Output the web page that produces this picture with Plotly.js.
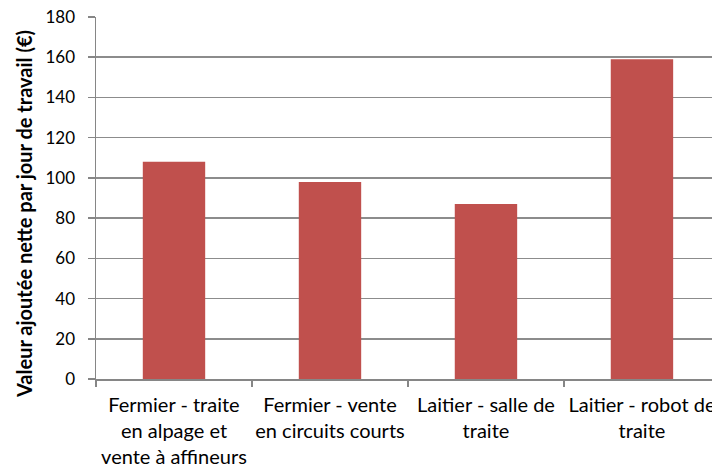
<!DOCTYPE html>
<html>
<head>
<meta charset="utf-8">
<script src="https://cdn.plot.ly/plotly-3.0.1.min.js"></script>
<style>html,body{margin:0;padding:0;background:#fff;overflow:hidden}#chart{width:712px;height:466px}</style>
</head>
<body>
<div id="chart"></div>
<script>
const categories = [
  "Fermier - traite<br>en alpage et<br>vente à affineurs",
  "Fermier - vente<br>en circuits courts",
  "Laitier - salle de<br>traite",
  "Laitier - robot de<br>traite"
];
const values = [108, 98, 87, 159];
const yTitle = "Valeur ajoutée nette par jour de travail (€)";
const yTicks = [0, 20, 40, 60, 80, 100, 120, 140, 160, 180];

const FONT = "Lato, 'Open Sans', sans-serif";
const W = 712, H = 466;
const M = {l: 96, r: 0, t: 17, b: 87};
const plotW = W - M.l - M.r, plotH = H - M.t - M.b;

Plotly.newPlot("chart", [{
  type: "bar",
  x: categories,
  y: values,
  marker: {color: "#C0504D", line: {width: 0}},
  hoverinfo: "none"
}], {
  width: W, height: H,
  margin: {l: M.l, r: M.r, t: M.t, b: M.b, pad: 0},
  paper_bgcolor: "#ffffff", plot_bgcolor: "#ffffff",
  bargap: 0.6,
  showlegend: false,
  font: {family: FONT, color: "#000000"},
  xaxis: {
    type: "category",
    range: [-0.5, 3.449],
    tickangle: 0,
    tickson: "boundaries",
    ticks: "outside", ticklen: 6, tickcolor: "#868686", tickwidth: 1.5,
    showline: true, linecolor: "#868686", linewidth: 1.5,
    showgrid: false, zeroline: false,
    tickfont: {family: FONT, size: 20, color: "#000"},
    ticklabelstandoff: 7,
    ticklabeloverflow: "allow",
    automargin: false,
    fixedrange: true
  },
  yaxis: {
    range: [0, 180],
    tickvals: yTicks,
    ticktext: yTicks.map(String),
    ticks: "outside", ticklen: 7, tickcolor: "#868686", tickwidth: 1.5,
    showline: true, linecolor: "#868686", linewidth: 1.5,
    showgrid: true, gridcolor: "#8c8c8c", gridwidth: 1.5,
    zeroline: false,
    tickfont: {family: FONT, size: 17, color: "#000"},
    ticklabelstandoff: 9,
    automargin: false,
    fixedrange: true
  },
  annotations: [{
    text: yTitle,
    textangle: -90,
    xref: "paper", yref: "paper",
    x: (24 - M.l) / plotW, y: (H - M.b - 214) / plotH,
    xanchor: "center", yanchor: "middle",
    showarrow: false,
    font: {family: FONT, size: 20, color: "#000", weight: "bold"}
  }]
}, {staticPlot: true, displayModeBar: false});
</script>
</body>
</html>
